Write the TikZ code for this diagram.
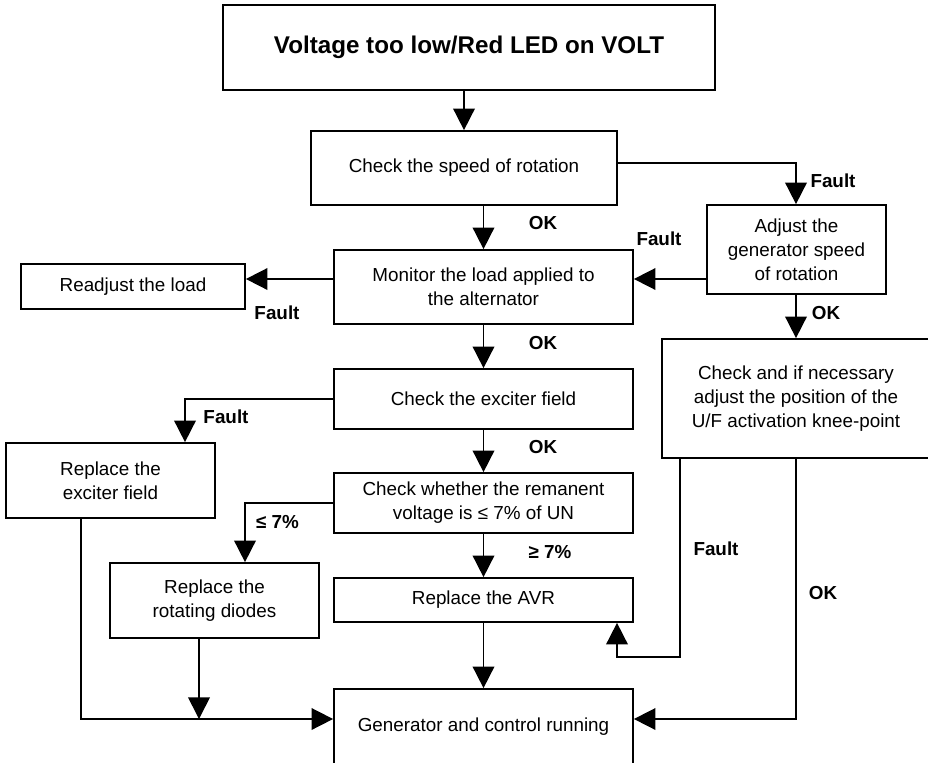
\documentclass[tikz,border=0pt]{standalone}
\usepackage{fontspec}
\setmainfont{Liberation Sans}
\usetikzlibrary{arrows.meta}
\newcommand{\lab}[3]{\node[lbl] (#1) at (#2) {#3}}

\begin{document}
\begin{tikzpicture}[x=0.025cm, y=-0.025cm,
	box/.style={draw, line width=1.2pt, align=center, inner sep=0pt,
		font=\fontsize{13.4}{16.9}\selectfont},
	lbl/.style={font=\fontsize{13.4}{16}\selectfont\bfseries, inner sep=0pt},
	arr/.style={line width=1.2pt, -{Triangle[width=0.54cm,length=0.54cm]}}]
\clip (0,0) rectangle (928,763);
%Boxes
	\node[box, line width=1.9pt, minimum width=12.3cm, minimum height=2.125cm,
		font=\fontsize{17.2}{20}\selectfont\bfseries] (volt) at (469,47.5) {Voltage too low/Red LED on VOLT};
	\node[box, minimum width=7.65cm, minimum height=1.85cm] (speed) at (464,168) {Check the speed of rotation};
	\node[box, minimum width=4.475cm, minimum height=2.225cm] (adjust) at (796.5,249.5) {Adjust the\\generator speed\\of rotation};
	\node[box, minimum width=7.475cm, minimum height=1.85cm] (monitor) at (483.5,287) {Monitor the load applied to\\the alternator};
	\node[box, minimum width=5.6cm, minimum height=1.125cm] (readjust) at (133,286.5) {Readjust the load};
	\node[box, minimum width=7.475cm, minimum height=1.5cm] (exciter) at (483.5,399) {Check the exciter field};
	\node[box, minimum width=5.225cm, minimum height=1.875cm] (exfield) at (110.5,480.5) {Replace the\\exciter field};
	\node[box, minimum width=7.475cm, minimum height=1.5cm] (remanent) at (483.5,503) {Check whether the remanent\\voltage is ≤ 7\% of UN};
	\node[box, minimum width=5.225cm, minimum height=1.875cm] (diodes) at (214.5,600.5) {Replace the\\rotating diodes};
	\node[box, minimum width=7.475cm, minimum height=1.1cm] (avr) at (483.5,600) {Replace the AVR};
	\node[box, minimum width=7.475cm, minimum height=1.875cm] (gen) at (483.5,726.5) {Generator and control running};
	\node[box, minimum width=6.7cm, minimum height=2.975cm] (uf) at (796,398.5) {Check and if necessary\\adjust the position of the\\U/F activation knee-point};
%Bends
	\coordinate (sy) at (0,163);
	\coordinate (fy) at (0,279);
	\coordinate (gy) at (0,719);
	\coordinate (exk) at (185,0);
	\coordinate (dk) at (245,0);
	\coordinate (fk) at (680,657);
	\coordinate (ak) at (617,0);
	\coordinate (ek) at (81,0);
	\coordinate (rk) at (199,0);
%Arrows
	\draw[arr] (volt.south -| speed.north) -- (speed.north);
	\draw[arr] (monitor.north |- speed.south) -- (monitor.north);
	\draw[arr] (speed.east |- sy) -| (uf.north |- adjust.north);
	\draw[arr] (adjust.west |- fy) -- (monitor.east |- fy);
	\draw[arr] (monitor.west |- fy) -- (readjust.east |- fy);
	\draw[arr] (monitor.south) -- (exciter.north);
	\draw[arr] (exciter.west) -| (exfield.north -| exk);
	\draw[arr] (exciter.south) -- (remanent.north);
	\draw[arr] (remanent.west) -| (diodes.north -| dk);
	\draw[arr] (remanent.south) -- (avr.north);
	\draw[arr] (avr.south) -- (gen.north);
	\draw[arr] (uf.north |- adjust.south) -- (uf.north);
	\draw[arr] (uf.south -| fk) -- (fk) -| (avr.south -| ak);
	\draw[arr] (uf.south) |- (gen.east |- gy);
	\draw[arr] (exfield.south -| ek) |- (gen.west |- gy);
	\draw[arr] (diodes.south -| rk) -- (rk |- gy);
%Labels
	\lab{f1}{833,181}{Fault};
	\lab{ok1}{543,223}{OK};
	\lab{f2}{659,239}{Fault};
	\lab{ok2}{826,313}{OK};
	\lab{f3}{277,313}{Fault};
	\lab{ok3}{543,343}{OK};
	\lab{f4}{226,417}{Fault};
	\lab{ok4}{543,447}{OK};
	\lab{le}{277.5,522}{≤ 7\%};
	\lab{ge}{550,552}{≥ 7\%};
	\lab{f5}{716,549}{Fault};
	\lab{ok5}{823,593}{OK};
\end{tikzpicture}
\end{document}
